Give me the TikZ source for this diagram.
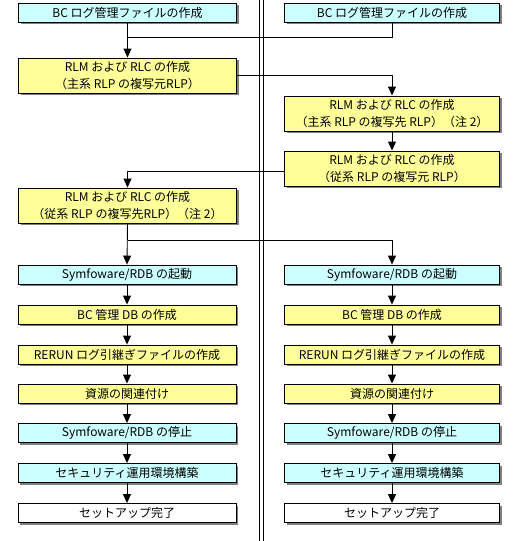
\documentclass[tikz,border=0pt]{standalone}
\usepackage{fontspec}
\newfontfamily\jpfont{Noto Sans CJK JP}
\usetikzlibrary{arrows.meta,shadows}
\definecolor{boxcyan}{HTML}{CCFFFF}
\definecolor{boxyellow}{HTML}{FFFF99}
\definecolor{shadowgray}{HTML}{808080}
\tikzset{
  stepbox/.style={draw=black, line width=0.9pt, minimum height=19pt, inner sep=0pt,
    align=center, font=\jpfont\fontsize{12}{16.5}\selectfont,
    drop shadow={shadow xshift=2pt, shadow yshift=-2pt, fill=shadowgray, opacity=1}},
  leftbox/.style={stepbox, minimum width=218pt},
  rightbox/.style={stepbox, minimum width=215pt},
  tall/.style={minimum height=35pt},
  cy/.style={fill=boxcyan},
  ye/.style={fill=boxyellow},
  wh/.style={fill=white},
  conn/.style={draw=black, line width=0.9pt},
  arr/.style={conn, -{Triangle[width=8pt,length=9pt]}},
  divider/.style={draw=black, line width=1.3pt}
}
\begin{document}
\begin{tikzpicture}[x=1pt,y=-1pt]
\useasboundingbox (0,0) rectangle (520,541);
% divider
\draw[divider] (259.5,0) -- (259.5,541);
\draw[divider] (263.5,0) -- (263.5,541);

% upper part
\node[leftbox,cy] (L1) at (127.5,12.5) {BC ログ管理ファイルの作成};
\node[rightbox,cy] (R1) at (392,12.5) {BC ログ管理ファイルの作成};
\node[leftbox,ye,tall] (L2) at (127.5,75.5) {RLM および RLC の作成\\（主系 RLP の複写元RLP）};
\node[rightbox,ye,tall] (R2) at (392,113.5) {RLM および RLC の作成\\（主系 RLP の複写先 RLP）（注 2）};
\node[rightbox,ye,tall] (R3) at (392,168.5) {RLM および RLC の作成\\（従系 RLP の複写元 RLP）};
\node[leftbox,ye,tall] (L3) at (127.5,205.5) {RLM および RLC の作成\\（従系 RLP の複写先RLP）（注 2）};

\coordinate (j1) at (127.5,37);
\coordinate (j2) at (127.5,240);

% lower columns
\foreach \side/\x/\sty in {L/127/leftbox,R/392/rightbox}{
  \node[\sty,cy] (\side4) at (\x,274.5) {Symfoware/RDB の起動};
  \node[\sty,ye] (\side5) at (\x,314.5) {BC 管理 DB の作成};
  \node[\sty,ye] (\side6) at (\x,354.5) {RERUN ログ引継ぎファイルの作成};
  \node[\sty,ye] (\side7) at (\x,393.5) {資源の関連付け};
  \node[\sty,cy] (\side8) at (\x,433) {Symfoware/RDB の停止};
  \node[\sty,cy] (\side9) at (\x,473) {セキュリティ運用環境構築};
  \node[\sty,wh] (\side10) at (\x,513) {セットアップ完了};
}

% connectors upper
\draw[arr] (L1.south) -- (L2.north);
\draw[conn] (R1.south) |- (j1);
\draw[arr] (L2.east) -| (R2.north);
\draw[arr] (R2.south) -- (R3.north);
\draw[arr] ([yshift=-3pt]R3.west) -| (L3.north);
\draw[arr] (L3.south) -- (L4.north);
\draw[arr] (j2) -| (R4.north);

% connectors in columns
\foreach \side in {L,R}{
  \foreach \a/\b in {4/5,5/6,6/7,7/8,8/9,9/10}{
    \draw[arr] (\side\a.south) -- (\side\b.north);
  }
}
\end{tikzpicture}
\end{document}
